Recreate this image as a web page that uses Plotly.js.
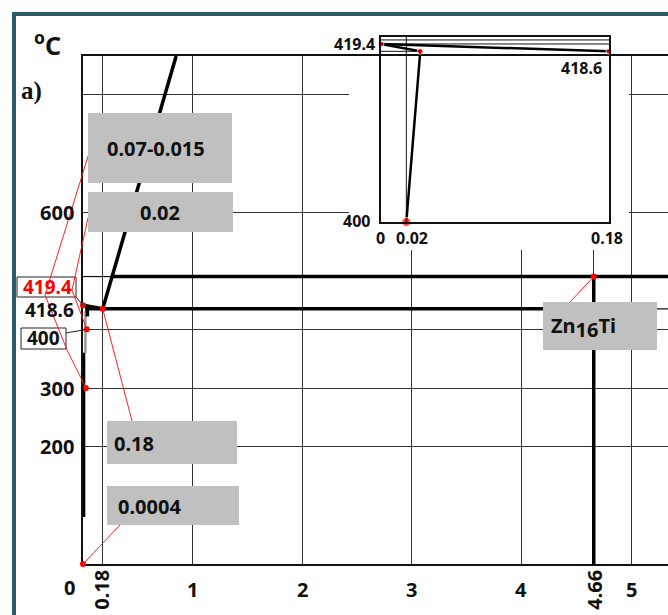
<!DOCTYPE html>
<html><head><meta charset="utf-8">
<script src="https://cdn.plot.ly/plotly-3.0.1.min.js"></script>
<style>html,body{margin:0;padding:0;background:#fff;}#chart{width:668px;height:615px;}</style>
</head><body><div id="chart"></div>
<script>
// ---------------- data (schematic diagram values as drawn) ----------------
const xGridVals   = [0.18, 1, 2, 3, 4, 4.66, 5];
const xTickText   = ['0.18', '1', '2', '3', '4', '4.66', '5'];
const yGridVals   = [200, 300, 400, 600, 800];
const yTickVals   = [600, 300, 200];
const yTickText   = ['600', '300', '200'];

const levelVals   = [490, 435, 400];          // drawn positions of key levels
const levelText   = ['419.4', '418.6', '400'];

const liquidusX   = [0.18, 0.85];
const liquidusY   = [435, 866];
const eutecticX   = [0, 0.18];
const eutecticY   = [441, 435];
const compoundX   = [4.66, 4.66];             // Zn16Ti
const compoundY   = [0, 490];
const upperLineX  = [0.265, 5.34];            // 419.4 level (thick part)
const upperThinX  = [0, 0.265];
const lowerLineX  = [0.02, 4.66];             // 418.6 level (thick part)
const lowerThinX  = [4.66, 5.34];
const solvusX     = [0.005, 0.005];
const solvusY     = [80, 360];
const solvus2X    = [0.022, 0.022];
const solvus2Y    = [360, 432];
const stubX       = [0.04, 0.04];
const stubY       = [435, 422];

const pointX      = [0, 0.027, 0.035, 0, 0.18, 4.66];
const pointY      = [0, 300, 400, 441, 435, 490];
const pointLabels = ['0.0004', '0.07-0.015', '0.02', '419.4', '0.18', 'Zn<sub>16</sub>Ti'];

// inset (to scale)
const insLiqX  = [0, 0.18];
const insLiqY  = [419.4, 418.6];
const insSolX  = [0, 0.031, 0.02];
const insSolY  = [419.4, 418.6, 400];
const insPtX   = [0, 0.031, 0.02, 0.18];
const insPtY   = [419.4, 418.6, 400, 418.6];
const insXTicks = [0, 0.02, 0.18];
const insXText  = ['0', '0.02', '0.18'];
const insYTicks = [419.4, 400];
const insYText  = ['419.4', '400'];

// ---------------- layout helpers ----------------
const XMAX = 585 / 109.6;
const YMAX = 866;
const MAIN_TOP = 508 / 534;
const pxX = p => (p - 83) / 585;
const pxY = p => (564 - p) / 534;
const dX = x => x / XMAX;
const dY = y => y / YMAX * MAIN_TOP;
const FONT = 'Noto Sans, DejaVu Sans, sans-serif';
const INK = '#111';

function seg(xs, ys) { return {x: xs, y: ys}; }
function joined(list) {
  const x = [], y = [];
  list.forEach((s, i) => { if (i) { x.push(null); y.push(null); } x.push(...s.x); y.push(...s.y); });
  return {x, y};
}

const thinMain = joined([
  seg(upperThinX, [levelVals[0], levelVals[0]]),
  seg(lowerThinX, [levelVals[1], levelVals[1]])
]);
const thickMain = joined([
  seg(upperLineX, [levelVals[0], levelVals[0]]),
  seg(lowerLineX, [levelVals[1], levelVals[1]]),
  seg(compoundX, compoundY),
  seg(liquidusX, liquidusY),
  seg(eutecticX, eutecticY),
  seg(solvusX, solvusY),
  seg(stubX, stubY)
]);
const insThin = joined([
  seg([0, 0.18], [419.4, 419.4]),
  seg([0, 0.18], [419.84, 419.84]),
  seg([0.02, 0.02], [400, 420.2]),
  seg([0, 0.031], [418.6, 418.6])
]);
const insThick = joined([seg(insLiqX, insLiqY), seg(insSolX, insSolY)]);

const coverX0 = (349 - 83) / 109.6, coverX1 = (629 - 83) / 109.6, coverY0 = (564 - 250) / 0.5866;

const traces = [
  {x: [coverX0, coverX1, coverX1, coverX0, coverX0], y: [coverY0, coverY0, 1000, 1000, coverY0],
   mode: 'lines', fill: 'toself', fillcolor: '#ffffff', line: {width: 0, color: '#ffffff'}, hoverinfo: 'skip'},
  {x: thinMain.x, y: thinMain.y, mode: 'lines', line: {color: INK, width: 1.2}, hoverinfo: 'skip'},
  {x: solvus2X, y: solvus2Y, mode: 'lines', line: {color: '#9a9a9a', width: 2.5}, hoverinfo: 'skip'},
  {x: thickMain.x, y: thickMain.y, mode: 'lines', line: {color: '#000', width: 3.5}, hoverinfo: 'skip'},
  {x: pointX, y: pointY, mode: 'markers', marker: {color: '#ff0000', size: 6}, cliponaxis: false, hoverinfo: 'skip'},
  // inset
  {x: insThin.x, y: insThin.y, xaxis: 'x2', yaxis: 'y2', mode: 'lines', line: {color: INK, width: 1}, hoverinfo: 'skip'},
  {x: insThick.x, y: insThick.y, xaxis: 'x2', yaxis: 'y2', mode: 'lines', line: {color: '#000', width: 2.5}, hoverinfo: 'skip'},
  {x: insPtX, y: insPtY, xaxis: 'x2', yaxis: 'y2', mode: 'markers', marker: {color: '#ff0000', size: [6, 6, 9, 6]}, cliponaxis: false, hoverinfo: 'skip'}
];

// ---------------- shapes ----------------
function leader(points, idx) {
  let s = '';
  points.forEach((p, i) => { s += (i ? ' L ' : 'M ') + pxX(p[0]) + ',' + pxY(p[1]); });
  s += ' L ' + dX(pointX[idx]) + ',' + dY(pointY[idx]);
  return s;
}
function rectPx(x0, y0, x1, y1, fill, line) {
  return {type: 'rect', xref: 'paper', yref: 'paper', x0: pxX(x0), x1: pxX(x1), y0: pxY(y1), y1: pxY(y0),
          fillcolor: fill, line: line, layer: 'above'};
}
const shapes = [
  {type: 'rect', xref: 'paper', yref: 'paper', x0: pxX(14), y0: pxY(1200), x1: pxX(1200), y1: pxY(14),
   line: {color: '#2b5d6b', width: 4}, fillcolor: 'rgba(0,0,0,0)', layer: 'above'},
  rectPx(17, 277, 76, 297, '#ffffff', {color: '#222', width: 1}),
  rectPx(21, 328, 66, 349, '#ffffff', {color: '#222', width: 1})
];
const red = {color: '#ff2020', width: 1};
[
  [[[90, 150], [45, 295], [67, 350]], 1],
  [[[88, 218], [72, 290]], 2],
  [[[132, 421]], 4],
  [[[120, 525]], 0],
  [[[570, 302]], 5]
].forEach(([pts, idx]) => shapes.push({type: 'path', xref: 'paper', yref: 'paper', path: leader(pts, idx), line: red, layer: 'above'}));
[
  [[[76, 297]], 3],
  [[[66, 333]], 2]
].forEach(([pts, idx]) => shapes.push({type: 'path', xref: 'paper', yref: 'paper', path: leader(pts, idx), line: {color: '#222', width: 1}, layer: 'above'}));
const grayBox = '#c0c0c0';
shapes.push(rectPx(88, 113, 232, 183, grayBox, {width: 0}));
shapes.push(rectPx(88, 192, 233, 232, grayBox, {width: 0}));
shapes.push(rectPx(107, 421, 237, 464, grayBox, {width: 0}));
shapes.push(rectPx(107, 486, 239, 525, grayBox, {width: 0}));
shapes.push(rectPx(543, 302, 657, 350, grayBox, {width: 0}));

// ---------------- annotations ----------------
const annotations = [];
function txt(text, opts) {
  annotations.push(Object.assign({text: '<b>' + text + '</b>', showarrow: false, xanchor: 'center', yanchor: 'middle',
    font: {family: FONT, size: 20, color: INK}}, opts));
}
// x tick labels
xGridVals.forEach((v, i) => {
  const rot = xTickText[i].indexOf('.') >= 0;
  txt(xTickText[i], {xref: 'x', yref: 'paper', x: v, y: pxY(rot ? 590 : 589), textangle: rot ? -90 : 0, xshift: v === 0.18 ? -2 : 0});
});
txt('0', {xref: 'paper', yref: 'paper', x: pxX(69), y: pxY(587)});
// y tick labels
yTickVals.forEach((v, i) => txt(yTickText[i], {xref: 'paper', yref: 'y', x: pxX(76), y: v, xanchor: 'right'}));
// key levels
txt(levelText[0], {xref: 'paper', yref: 'y', x: pxX(47), y: levelVals[0], yshift: -10.5, font: {family: FONT, size: 19, color: '#ff0000'}});
txt(levelText[1], {xref: 'paper', yref: 'y', x: pxX(76), y: levelVals[1], xanchor: 'right', yshift: -1, font: {family: FONT, size: 19, color: INK}});
txt(levelText[2], {xref: 'paper', yref: 'y', x: pxX(43.5), y: levelVals[2], yshift: -9, font: {family: FONT, size: 19, color: INK}});
// gray box labels
txt(pointLabels[1], {xref: 'paper', yref: 'paper', x: pxX(156), y: pxY(148)});
txt(pointLabels[2], {xref: 'paper', yref: 'paper', x: pxX(160), y: pxY(213)});
txt(pointLabels[4], {xref: 'paper', yref: 'paper', x: pxX(112), y: pxY(443), xanchor: 'left'});
txt(pointLabels[0], {xref: 'paper', yref: 'paper', x: pxX(116), y: pxY(506), xanchor: 'left'});
txt('Zn<sub><span style="font-size:20px">16</span></sub>Ti', {xref: 'paper', yref: 'paper', x: pxX(549), y: pxY(327), xanchor: 'left'});
// inset labels
const insFont = {family: FONT, size: 16, color: INK};
insXTicks.forEach((v, i) => txt(insXText[i], {xref: 'x2', yref: 'paper', x: v, y: pxY(238), xshift: [-1, 6, -2][i], font: insFont}));
insYTicks.forEach((v, i) => txt(insYText[i], {xref: 'paper', yref: 'y2', x: pxX(i ? 372 : 377), y: v, xanchor: 'right', yshift: i ? 1 : 0, font: insFont}));
txt('418.6', {xref: 'x2', yref: 'y2', x: 0.18, y: 418.6, xanchor: 'right', yanchor: 'top', xshift: -5, yshift: -4, font: insFont});
// corner texts
txt('<sup>o</sup>C', {xref: 'paper', yref: 'paper', x: pxX(32), y: pxY(44), xanchor: 'left', font: {family: FONT, size: 25, color: INK}});
txt('a)', {xref: 'paper', yref: 'paper', x: pxX(19), y: pxY(91), xanchor: 'left', font: {family: 'Liberation Serif, serif', size: 25, color: INK}});

const axBase = {showticklabels: false, ticks: '', zeroline: false, fixedrange: true};
const layout = {
  width: 668, height: 615,
  margin: {l: 83, r: 0, t: 30, b: 51, pad: 0},
  paper_bgcolor: '#ffffff', plot_bgcolor: 'rgba(0,0,0,0)', showlegend: false,
  xaxis: Object.assign({}, axBase, {domain: [0, 1], range: [0, XMAX], anchor: 'y', tickvals: xGridVals,
    showgrid: true, gridcolor: '#333', gridwidth: 1, showline: true, mirror: true, linecolor: INK, linewidth: 2, layer: 'below traces'}),
  yaxis: Object.assign({}, axBase, {domain: [0, MAIN_TOP], range: [0, YMAX], anchor: 'x', tickvals: yGridVals,
    showgrid: true, gridcolor: '#333', gridwidth: 1, showline: true, linecolor: INK, linewidth: 2, layer: 'below traces'}),
  xaxis2: Object.assign({}, axBase, {domain: [pxX(381), pxX(609)], range: [0, 0.18], anchor: 'y2',
    showgrid: false, showline: true, mirror: true, linecolor: INK, linewidth: 2}),
  yaxis2: Object.assign({}, axBase, {domain: [pxY(222), pxY(37)], range: [400, 420.16], anchor: 'x2',
    showgrid: false, showline: true, mirror: true, linecolor: INK, linewidth: 2}),
  shapes: shapes,
  annotations: annotations
};
Plotly.newPlot('chart', traces, layout, {staticPlot: true, displayModeBar: false});
</script>
</body></html>
